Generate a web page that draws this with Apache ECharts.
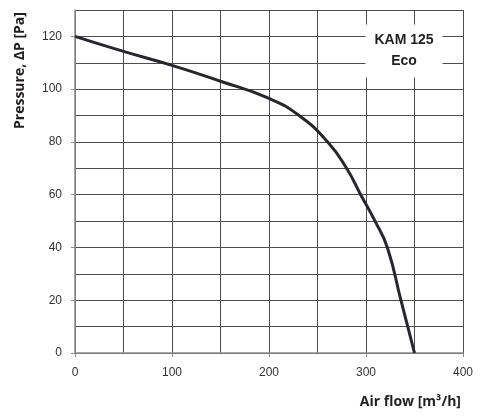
<!DOCTYPE html>
<html>
<head>
<meta charset="utf-8">
<script src="https://cdn.jsdelivr.net/npm/echarts@6/dist/echarts.min.js"></script>
<style>
  html, body { margin: 0; padding: 0; background: #fff; }
  #chart { width: 486px; height: 417px; }
</style>
</head>
<body>
<div id="chart"></div>
<script>
// fan curve
var airFlow = [0, 50, 100, 150, 200, 231, 260.5, 280, 294.5, 309.3, 322, 336, 350];
var pressure = [120, 114.3, 109, 103, 96.5, 90, 80, 70, 60, 50, 40, 20, 0];
// tick labels
var xTicks = [0, 100, 200, 300, 400];
var yTicks = [0, 20, 40, 60, 80, 100, 120];
var modelName = 'KAM 125\nEco';

var chart = echarts.init(document.getElementById('chart'));

var gridColor = '#4d4d4d';
var axisColor = '#8c8c8c';
var labelFont = '"Liberation Sans", Arial, sans-serif';

// grid axes: split lines every 50 / 10, labels only at the round values
// tick axes: same range, only the short ticks at the labels
var option = {
    animation: false,
    grid: { left: 75, right: 23, top: 10, bottom: 64 },
    xAxis: [{
        type: 'value',
        min: 0,
        max: 400,
        interval: 50,
        axisLine: { show: true, lineStyle: { color: axisColor, width: 1.5 } },
        axisTick: { show: false },
        axisLabel: {
            customValues: xTicks,
            color: '#333',
            fontFamily: labelFont,
            fontSize: 12,
            margin: 14
        },
        splitLine: { show: true, lineStyle: { color: gridColor, width: 1 } }
    }, {
        type: 'value',
        position: 'bottom',
        min: 0,
        max: 400,
        axisLine: { show: false },
        axisTick: { show: true, length: 4, customValues: xTicks, lineStyle: { color: axisColor } },
        axisLabel: { show: false },
        splitLine: { show: false }
    }],
    yAxis: [{
        type: 'value',
        min: 0,
        max: 130,
        interval: 10,
        axisLine: { show: true, lineStyle: { color: axisColor, width: 1.5 } },
        axisTick: { show: false },
        axisLabel: {
            customValues: yTicks,
            color: '#333',
            fontFamily: labelFont,
            fontSize: 12,
            margin: 13
        },
        splitLine: { show: true, lineStyle: { color: gridColor, width: 1 } }
    }, {
        type: 'value',
        position: 'left',
        min: 0,
        max: 130,
        axisLine: { show: false },
        axisTick: { show: true, length: 4, customValues: yTicks, lineStyle: { color: axisColor } },
        axisLabel: { show: false },
        splitLine: { show: false }
    }],
    series: [{
        type: 'line',
        data: airFlow.map(function (x, i) { return [x, pressure[i]]; }),
        smooth: 0.5,
        showSymbol: false,
        lineStyle: { color: '#26262e', width: 3 },
        z: 5
    }],
    graphic: [
        {
            type: 'text',
            rotation: Math.PI / 2,
            x: 13,
            y: 129,
            style: {
                text: 'Pressure, \u2206P [Pa]',
                fill: '#231f20',
                font: 'bold 14px "Open Sans", sans-serif'
            }
        },
        {
            type: 'text',
            right: 25,
            top: 395,
            style: {
                text: 'Air flow [m\u00b3/h]',
                fill: '#231f20',
                font: 'bold 14px "Open Sans", sans-serif'
            }
        },
        {
            type: 'text',
            x: 404,
            y: 51,
            z: 10,
            style: {
                text: modelName,
                fill: '#231f20',
                font: 'bold 14px "Liberation Sans", Arial, sans-serif',
                lineHeight: 21,
                align: 'center',
                verticalAlign: 'middle',
                backgroundColor: '#fff',
                padding: [5, 9, 6, 9]
            }
        }
    ]
};

chart.setOption(option);
</script>
</body>
</html>
